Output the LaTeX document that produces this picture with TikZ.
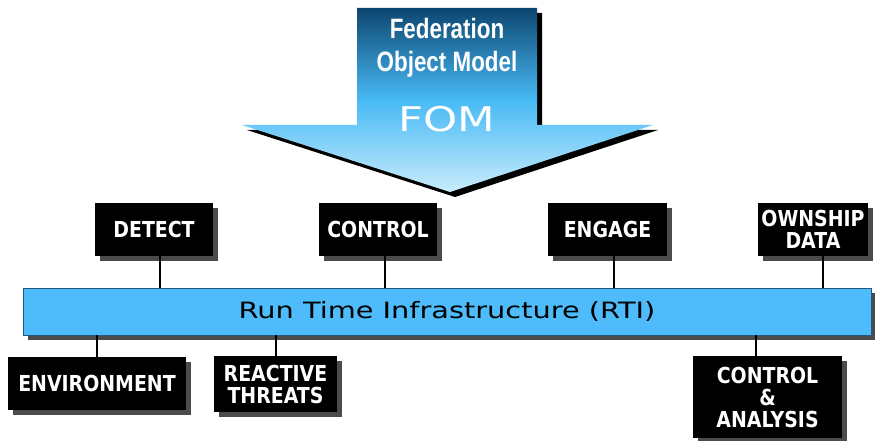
\documentclass[tikz,border=0pt]{standalone}
\usepackage{fontspec}
\usetikzlibrary{shadows}
\newfontfamily\boxfont[FakeStretch=0.86]{DejaVu Sans}
\newfontfamily\widefont[FakeStretch=1.28]{DejaVu Sans}
\newfontfamily\condfont[FakeStretch=0.8]{Liberation Sans}
\definecolor{fomdark}{RGB}{12,70,112}
\definecolor{fommid}{RGB}{72,186,245}
\definecolor{fomlight}{RGB}{200,236,252}
\definecolor{rtiblue}{RGB}{78,187,251}
\definecolor{rtiedge}{RGB}{30,90,130}
\definecolor{shadowgrey}{RGB}{75,75,75}
\begin{document}
\begin{tikzpicture}[x=1pt, y=-1pt,
    blackbox/.style={fill=black, text=white, align=center,
          font=\boxfont\bfseries\fontsize{22}{22}\selectfont,
          inner sep=0pt, outer sep=0pt,
          drop shadow={fill=shadowgrey, opacity=1,
              shadow xshift=5pt, shadow yshift=-5pt}},
    link/.style={line width=2pt, black}]
  \useasboundingbox (0,0) rectangle (875,441);
  % FOM arrow
  \fill[black] (362,13) -- (542,13) -- (542,130) -- (658,130) -- (455,197)
        -- (247,130) -- (362,130) -- cycle;
  \shade[top color=fomdark, bottom color=fomlight, middle color=fommid]
        (357,8) -- (537,8) -- (537,125) -- (653,125) -- (450,192)
        -- (242,125) -- (357,125) -- cycle;
  \node[text=white, align=center, font=\condfont\bfseries\fontsize{28}{33}\selectfont]
        (fomname) at (447,48) {Federation\\Object Model};
  \node[text=white, font=\widefont\fontsize{34}{34}\selectfont] (fom) at (447,119) {FOM};
  % RTI bar
  \node[fill=rtiblue, draw=rtiedge, line width=0.8pt, minimum width=848,
        minimum height=47, inner sep=0pt,
        font=\widefont\fontsize{22.5}{24}\selectfont,
        drop shadow={fill=shadowgrey, opacity=1, shadow xshift=5pt, shadow yshift=-5pt}]
        (rti) at (447,311.5) {Run Time Infrastructure (RTI)};
  % applications above the bar
  \foreach \name/\x/\w/\shift/\txt in {detect/154/118/6/DETECT,
        control/378/118/7/CONTROL, engage/607.5/119/6.5/ENGAGE,
        ownship/813/110/10/OWNSHIP\\DATA}{
    \node[blackbox, minimum width=\w, minimum height=53] (\name) at (\x,229.5) {\txt};
    \draw[link] ([xshift=\shift pt]\name.south) -- ([xshift=\shift pt]\name.south |- rti.north);
  }
  % applications below the bar
  \node[blackbox, minimum width=178, minimum height=53] (env) at (97,383.5) {ENVIRONMENT};
  \node[blackbox, minimum width=123, minimum height=56] (threats) at (275.5,384) {REACTIVE\\THREATS};
  \node[blackbox, minimum width=149, minimum height=82] (analysis) at (767.5,397) {CONTROL\\\&\\ANALYSIS};
  \draw[link] (env.north) -- (env.north |- rti.south);
  \draw[link] (threats.north) -- (threats.north |- rti.south);
  \draw[link] ([xshift=-11.5pt]analysis.north) -- ([xshift=-11.5pt]analysis.north |- rti.south);
\end{tikzpicture}
\end{document}
